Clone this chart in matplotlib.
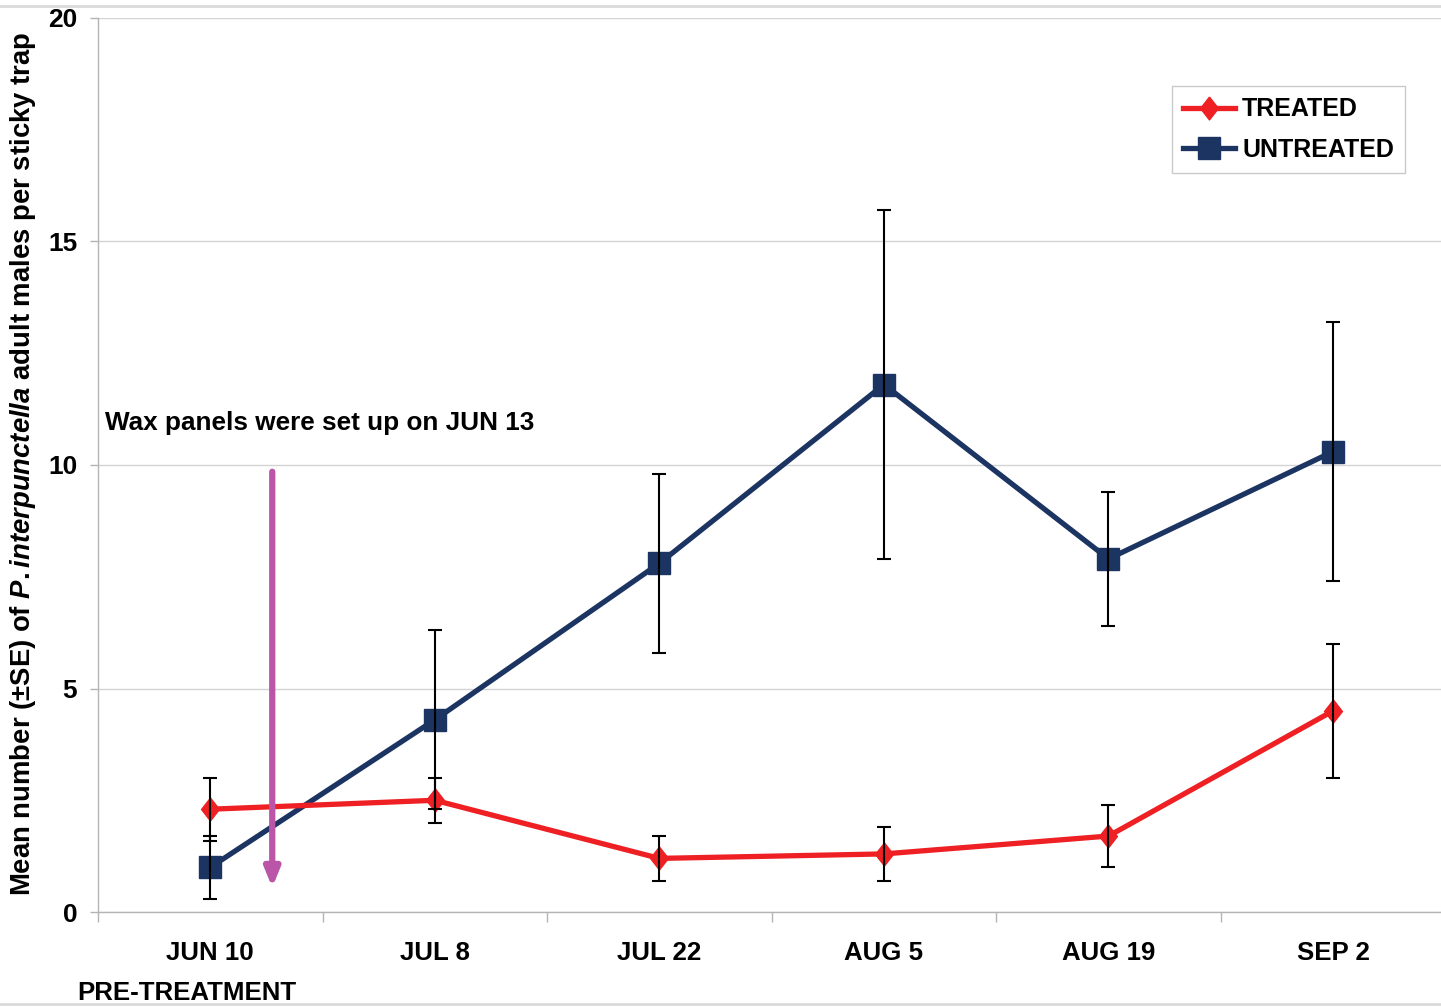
import matplotlib
matplotlib.use("Agg")
import matplotlib.pyplot as plt
from matplotlib.lines import Line2D
import numpy as np

plt.rcParams['font.family'] = ['Liberation Sans', 'DejaVu Sans']
plt.rcParams['font.weight'] = 'bold'
plt.rcParams['mathtext.fontset'] = 'custom'
plt.rcParams['mathtext.it'] = 'Liberation Sans:italic:bold'
plt.rcParams['mathtext.rm'] = 'Liberation Sans:bold'

# sampling dates
dates = ['JUN 10', 'JUL 8', 'JUL 22', 'AUG 5', 'AUG 19', 'SEP 2']

# mean counts and standard errors
treated = [2.3, 2.5, 1.2, 1.3, 1.7, 4.5]
treated_se = [0.7, 0.5, 0.5, 0.6, 0.7, 1.5]
untreated = [1.0, 4.3, 7.8, 11.8, 7.9, 10.3]
untreated_se = [0.7, 2.0, 2.0, 3.9, 1.5, 2.9]

red = '#EE2024'
navy = '#1C3461'
grid_col = '#D4D4D4'
spine_col = '#B4B4B4'

fig = plt.figure(figsize=(14.41, 10.08), dpi=100)
ax = fig.add_axes([0.068, 0.0952, 0.935, 0.887])

x = np.arange(len(dates))

# custom taller diamond
diamond = [(0, 1), (0.78, 0), (0, -1), (-0.78, 0), (0, 1)]

ax.plot(x, untreated, color=navy, lw=3.8, marker='s', ms=16,
        label='UNTREATED', zorder=3)
ax.plot(x, treated, color=red, lw=3.8, marker=diamond, ms=16.5,
        label='TREATED', zorder=4)
ax.errorbar(x, untreated, yerr=untreated_se, fmt='none', ecolor='black',
            elinewidth=1.5, capsize=5, capthick=1.5, zorder=5)
ax.errorbar(x, treated, yerr=treated_se, fmt='none', ecolor='black',
            elinewidth=1.5, capsize=5, capthick=1.5, zorder=5)

ax.set_xlim(-0.5, len(dates) - 0.5)
ax.set_ylim(0, 20)
ax.set_yticks([0, 5, 10, 15, 20])
ax.yaxis.grid(True, color=grid_col, lw=1.0)
ax.set_axisbelow(True)

ax.set_xticks(x)
ax.set_xticklabels(dates)
ax.set_xticks(np.arange(-0.5, len(dates)), minor=True)
ax.tick_params(axis='x', which='major', length=0, pad=21, labelsize=18.6)
ax.tick_params(axis='x', which='minor', length=7, color=spine_col, width=1)
ax.tick_params(axis='y', length=6, color=spine_col, width=1, pad=9,
               labelsize=19)
for lab in ax.get_xticklabels() + ax.get_yticklabels():
    lab.set_fontweight('bold')

for s in ['top', 'right']:
    ax.spines[s].set_visible(False)
for s in ['left', 'bottom']:
    ax.spines[s].set_color(spine_col)
    ax.spines[s].set_linewidth(1.0)

ax.text(-0.105, -0.0906, 'PRE-TREATMENT', transform=ax.get_xaxis_transform(),
        ha='center', va='center', fontsize=18.6, fontweight='bold')

ax.set_ylabel(r'Mean number (±SE) of $\mathit{P.interpunctella}$ adult males per sticky trap',
              fontsize=19.8, fontweight='bold')
ax.yaxis.set_label_coords(-0.0445, 0.501)

# treatment note and arrow
ax.text(-0.468, 10.95, 'Wax panels were set up on JUN 13', fontsize=18.8,
        fontweight='bold', ha='left', va='center')
ax.annotate('', xy=(0.276, 0.55), xytext=(0.276, 9.85),
            arrowprops=dict(arrowstyle='-|>,head_length=1.1,head_width=0.45',
                            color='#BB55A8', lw=4.5, shrinkA=0, shrinkB=0),
            zorder=6)

handles, labels = ax.get_legend_handles_labels()
leg = ax.legend(handles[::-1], labels[::-1], loc='upper left',
                bbox_to_anchor=(1172 / 1441, 1 - 86 / 1008),
                bbox_transform=fig.transFigure, fontsize=18, frameon=True,
                fancybox=False, edgecolor='#BDBDBD', handlelength=2.05,
                handletextpad=0.3, borderpad=0.45, labelspacing=0.66,
                borderaxespad=0)
leg.get_frame().set_linewidth(1.0)
for t in leg.get_texts():
    t.set_fontweight('bold')

# page border lines
fig.add_artist(Line2D([0, 1], [0.994, 0.994], transform=fig.transFigure,
                      color='#DADADA', lw=2))
fig.add_artist(Line2D([0, 1], [0.004, 0.004], transform=fig.transFigure,
                      color='#DADADA', lw=2))

fig.savefig('out.png', dpi=100)
